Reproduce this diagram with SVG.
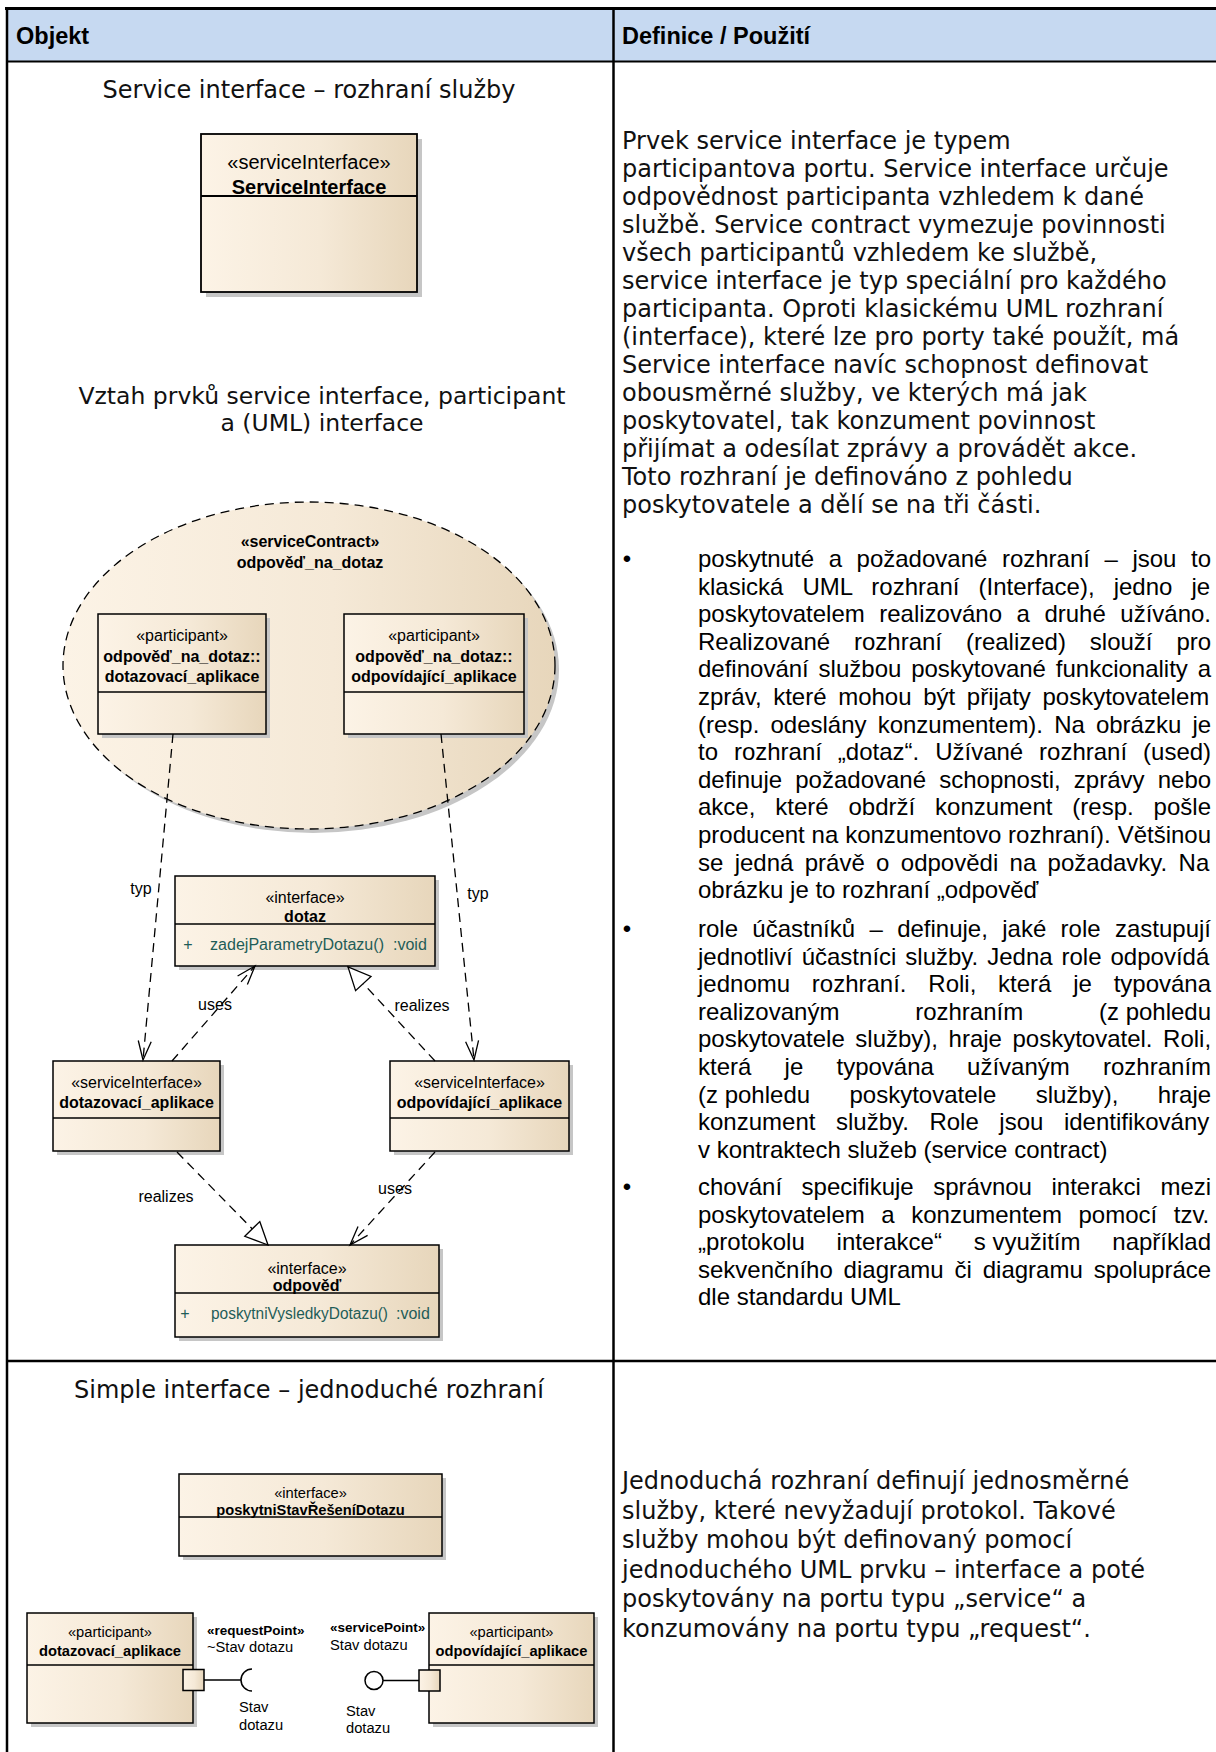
<svg xmlns="http://www.w3.org/2000/svg" width="1216" height="1752" viewBox="0 0 1216 1752">
<defs>
<style>
.hdr{font-family:"Liberation Sans",Arial,sans-serif;font-size:23.5px;font-weight:bold;fill:#000}
.para{font-family:"DejaVu Sans",Verdana,sans-serif;font-size:24px;fill:#111}
.ttl{font-family:"DejaVu Sans",Verdana,sans-serif;font-size:24px;fill:#111;text-anchor:middle}
.blt{font-family:"Liberation Sans",Arial,sans-serif;font-size:24px;fill:#000}
.u{font-family:"Liberation Sans",Arial,sans-serif;fill:#000}
.c{text-anchor:middle}
.b{font-weight:bold}
.s20{font-size:20px}
.s16{font-size:16px}
.s15{font-size:14.7px}
.s13{font-size:13.5px}
.op{fill:#1f5d58}
.box{fill:url(#ea);stroke:#000;stroke-width:1.5}
.sh{fill:#c6c6c6}
.ln{stroke:#000;stroke-width:1.5;fill:none}
.dash{fill:none;stroke:#000;stroke-width:1.3;stroke-dasharray:9 6}
.grid{stroke:#000;fill:none}
</style>
<linearGradient id="ea" x1="0" y1="0" x2="1" y2="0">
<stop offset="0" stop-color="#fcf3e6"/>
<stop offset="0.55" stop-color="#f5e9d7"/>
<stop offset="1" stop-color="#e7d6bb"/>
</linearGradient>
<marker id="open" viewBox="0 0 21 15" refX="20" refY="7.5" markerWidth="21" markerHeight="15" markerUnits="userSpaceOnUse" orient="auto" overflow="visible">
<path d="M1,1 L20,7.5 L1,14" fill="none" stroke="#000" stroke-width="1.3"/>
</marker>
<marker id="tri" viewBox="0 0 25 23" refX="23.5" refY="11.5" markerWidth="25" markerHeight="23" markerUnits="userSpaceOnUse" orient="auto" overflow="visible">
<path d="M1,1 L23.5,11.5 L1,22 Z" fill="#fff" stroke="#000" stroke-width="1.3"/>
</marker>
</defs>

<rect width="1216" height="1752" fill="#fff"/>

<!-- table frame -->
<g id="table">
<rect x="8" y="10" width="1208" height="51" fill="#c6d9f1"/>
<line class="grid" x1="5" y1="8.5" x2="1216" y2="8.5" stroke-width="3"/>
<line class="grid" x1="7" y1="7" x2="7" y2="1752" stroke-width="2.5"/>
<line class="grid" x1="7" y1="61.5" x2="1216" y2="61.5" stroke-width="2"/>
<line class="grid" x1="613.5" y1="7" x2="613.5" y2="1752" stroke-width="2.5"/>
<line class="grid" x1="7" y1="1361" x2="1216" y2="1361" stroke-width="2.5"/>
<text class="hdr" x="16" y="44">Objekt</text>
<text class="hdr" x="622" y="44">Definice / Použití</text>
</g>

<!-- left column headings -->
<g id="titles">
<text class="ttl" x="309" y="98">Service interface – rozhraní služby</text>
<text class="ttl" x="322" y="404" style="font-size:23.5px">Vztah prvků service interface, participant</text>
<text class="ttl" x="322" y="431" style="font-size:23.5px">a (UML) interface</text>
<text class="ttl" x="309" y="1398">Simple interface – jednoduché rozhraní</text>
</g>

<!-- right column: service interface description -->
<g id="text-service-interface">
<text class="para" x="622" y="149">Prvek service interface je typem</text>
<text class="para" x="622" y="177">participantova portu. Service interface určuje</text>
<text class="para" x="622" y="205">odpovědnost participanta vzhledem k dané</text>
<text class="para" x="622" y="233">službě. Service contract vymezuje povinnosti</text>
<text class="para" x="622" y="261">všech participantů vzhledem ke službě,</text>
<text class="para" x="622" y="289">service interface je typ speciální pro každého</text>
<text class="para" x="622" y="317">participanta. Oproti klasickému UML rozhraní</text>
<text class="para" x="622" y="345">(interface), které lze pro porty také použít, má</text>
<text class="para" x="622" y="373">Service interface navíc schopnost definovat</text>
<text class="para" x="622" y="401">obousměrné služby, ve kterých má jak</text>
<text class="para" x="622" y="429">poskytovatel, tak konzument povinnost</text>
<text class="para" x="622" y="457">přijímat a odesílat zprávy a provádět akce.</text>
<text class="para" x="622" y="485">Toto rozhraní je definováno z pohledu</text>
<text class="para" x="622" y="513">poskytovatele a dělí se na tři části.</text>

<text class="blt c" x="627" y="567">•</text>
<text class="blt" x="698" y="567" style="word-spacing:7.9px">poskytnuté a požadované rozhraní – jsou to</text>
<text class="blt" x="698" y="594.6" style="word-spacing:12.44px">klasická UML rozhraní (Interface), jedno je</text>
<text class="blt" x="698" y="622.2" style="word-spacing:7.85px">poskytovatelem realizováno a druhé užíváno.</text>
<text class="blt" x="698" y="649.8" style="word-spacing:17.22px">Realizované rozhraní (realized) slouží pro</text>
<text class="blt" x="698" y="677.4" style="word-spacing:3.18px">definování službou poskytované funkcionality a</text>
<text class="blt" x="698" y="705" style="word-spacing:4.96px">zpráv, které mohou být přijaty poskytovatelem</text>
<text class="blt" x="698" y="732.6" style="word-spacing:4.44px">(resp. odeslány konzumentem). Na obrázku je</text>
<text class="blt" x="698" y="760.2" style="word-spacing:9.24px">to rozhraní „dotaz“. Užívané rozhraní (used)</text>
<text class="blt" x="698" y="787.8" style="word-spacing:6.52px">definuje požadované schopnosti, zprávy nebo</text>
<text class="blt" x="698" y="815.4" style="word-spacing:13.22px">akce, které obdrží konzument (resp. pošle</text>
<text class="blt" x="698" y="843" style="word-spacing:0.18px">producent na konzumentovo rozhraní). Většinou</text>
<text class="blt" x="698" y="870.6" style="word-spacing:4.67px">se jedná právě o odpovědi na požadavky. Na</text>
<text class="blt" x="698" y="898.2">obrázku je to rozhraní „odpověď</text>

<text class="blt c" x="627" y="937">•</text>
<text class="blt" x="698" y="937" style="word-spacing:7.68px">role účastníků – definuje, jaké role zastupují</text>
<text class="blt" x="698" y="964.6" style="word-spacing:2.28px">jednotliví účastníci služby. Jedna role odpovídá</text>
<text class="blt" x="698" y="992.2" style="word-spacing:15.1px">jednomu rozhraní. Roli, která je typována</text>
<text class="blt" x="698" y="1019.8" style="word-spacing:69.1px">realizovaným rozhraním <tspan style="word-spacing:0">(z pohledu</tspan></text>
<text class="blt" x="698" y="1047.4" style="word-spacing:3.88px">poskytovatele služby), hraje poskytovatel. Roli,</text>
<text class="blt" x="698" y="1075" style="word-spacing:26.55px">která je typována užívaným rozhraním</text>
<text class="blt" x="698" y="1102.6" style="word-spacing:32.73px"><tspan style="word-spacing:0">(z pohledu</tspan> poskytovatele služby), hraje</text>
<text class="blt" x="698" y="1130.2" style="word-spacing:13.88px">konzument služby. Role jsou identifikovány</text>
<text class="blt" x="698" y="1157.8">v kontraktech služeb (service contract)</text>

<text class="blt c" x="627" y="1195">•</text>
<text class="blt" x="698" y="1195" style="word-spacing:12.88px">chování specifikuje správnou interakci mezi</text>
<text class="blt" x="698" y="1222.6" style="word-spacing:9.88px">poskytovatelem a konzumentem pomocí tzv.</text>
<text class="blt" x="698" y="1250.2" style="word-spacing:25.17px">„protokolu interakce“ <tspan style="word-spacing:0">s využitím</tspan> například</text>
<text class="blt" x="698" y="1277.8" style="word-spacing:4.2px">sekvenčního diagramu či diagramu spolupráce</text>
<text class="blt" x="698" y="1305.4">dle standardu UML</text>
</g>

<!-- right column: simple interface description -->
<g id="text-simple-interface">
<text class="para" x="622" y="1489">Jednoduchá rozhraní definují jednosměrné</text>
<text class="para" x="622" y="1518.5">služby, které nevyžadují protokol. Takové</text>
<text class="para" x="622" y="1548">služby mohou být definovaný pomocí</text>
<text class="para" x="622" y="1577.5">jednoduchého UML prvku – interface a poté</text>
<text class="para" x="622" y="1607">poskytovány na portu typu „service“ a</text>
<text class="para" x="622" y="1636.5">konzumovány na portu typu „request“.</text>
</g>

<!-- section 1: standalone service interface -->
<g id="node-ServiceInterface">
<rect class="sh" x="206" y="139" width="216" height="158"/>
<rect class="box" x="201" y="134" width="216" height="158" style="stroke-width:1.8"/>
<line class="ln" x1="201" y1="196" x2="417" y2="196" style="stroke-width:1.8"/>
<text class="u c s20" x="309" y="169">«serviceInterface»</text>
<text class="u c s20 b" x="309" y="194">ServiceInterface</text>
</g>

<!-- section 2: service contract with its participants -->
<g id="node-contract">
<ellipse class="sh" cx="313" cy="669.5" rx="246" ry="163.5"/>
<ellipse cx="309" cy="665.5" rx="246" ry="163.5" fill="url(#ea)" stroke="#000" stroke-width="1.3" stroke-dasharray="9 6"/>
<text class="u c s16 b" x="310" y="547">«serviceContract»</text>
<text class="u c s16 b" x="310" y="568">odpověď_na_dotaz</text>
</g>

<g id="node-participant-dotazovaci">
<rect class="sh" x="102" y="618" width="168" height="120"/>
<rect class="box" x="98" y="614" width="168" height="120"/>
<line class="ln" x1="98" y1="692" x2="266" y2="692"/>
<text class="u c s16" x="182" y="641">«participant»</text>
<text class="u c s16 b" x="182" y="662">odpověď_na_dotaz::</text>
<text class="u c s16 b" x="182" y="682">dotazovací_aplikace</text>
</g>

<g id="node-participant-odpovidajici">
<rect class="sh" x="348" y="618" width="180" height="120"/>
<rect class="box" x="344" y="614" width="180" height="120"/>
<line class="ln" x1="344" y1="692" x2="524" y2="692"/>
<text class="u c s16" x="434" y="641">«participant»</text>
<text class="u c s16 b" x="434" y="662">odpověď_na_dotaz::</text>
<text class="u c s16 b" x="434" y="682">odpovídající_aplikace</text>
</g>

<g id="node-dotaz">
<rect class="sh" x="179" y="880" width="260" height="90"/>
<rect class="box" x="175" y="876" width="260" height="90"/>
<line class="ln" x1="175" y1="924" x2="435" y2="924"/>
<text class="u c s16" x="305" y="903">«interface»</text>
<text class="u c s16 b" x="305" y="922">dotaz</text>
<text class="u c s16 op" x="188" y="950">+</text>
<text class="u s16 op" x="210" y="950" textLength="174" lengthAdjust="spacingAndGlyphs">zadejParametryDotazu()</text>
<text class="u s16 op" x="393" y="950">:void</text>
</g>

<g id="node-si-dotazovaci">
<rect class="sh" x="57" y="1065" width="167" height="90"/>
<rect class="box" x="53" y="1061" width="167" height="90"/>
<line class="ln" x1="53" y1="1118" x2="220" y2="1118"/>
<text class="u c s16" x="136.5" y="1088">«serviceInterface»</text>
<text class="u c s16 b" x="136.5" y="1108">dotazovací_aplikace</text>
</g>

<g id="node-si-odpovidajici">
<rect class="sh" x="394" y="1065" width="179" height="90"/>
<rect class="box" x="390" y="1061" width="179" height="90"/>
<line class="ln" x1="390" y1="1118" x2="569" y2="1118"/>
<text class="u c s16" x="479.5" y="1088">«serviceInterface»</text>
<text class="u c s16 b" x="479.5" y="1108">odpovídající_aplikace</text>
</g>

<g id="node-odpoved">
<rect class="sh" x="179" y="1249" width="264" height="92"/>
<rect class="box" x="175" y="1245" width="264" height="92"/>
<line class="ln" x1="175" y1="1293" x2="439" y2="1293"/>
<text class="u c s16" x="307" y="1274">«interface»</text>
<text class="u c s16 b" x="307" y="1291">odpověď</text>
<text class="u c s16 op" x="185" y="1319">+</text>
<text class="u s16 op" x="211" y="1319" textLength="177" lengthAdjust="spacingAndGlyphs">poskytniVysledkyDotazu()</text>
<text class="u s16 op" x="396" y="1319">:void</text>
</g>

<!-- section 3: simple interface and ports -->
<g id="node-poskytniStavReseniDotazu">
<rect class="sh" x="183" y="1478" width="263" height="82"/>
<rect class="box" x="179" y="1474" width="263" height="82"/>
<line class="ln" x1="179" y1="1517" x2="442" y2="1517"/>
<text class="u c s15" x="310.5" y="1498">«interface»</text>
<text class="u c s15 b" x="310.5" y="1515">poskytniStavŘešeníDotazu</text>
</g>

<g id="node-participant2-dotazovaci">
<rect class="sh" x="31" y="1617" width="166" height="110"/>
<rect class="box" x="27" y="1613" width="166" height="110"/>
<line class="ln" x1="27" y1="1665" x2="193" y2="1665"/>
<text class="u c s15" x="110" y="1637">«participant»</text>
<text class="u c s15 b" x="110" y="1656">dotazovací_aplikace</text>
</g>

<g id="node-participant2-odpovidajici">
<rect class="sh" x="433" y="1617" width="165" height="110"/>
<rect class="box" x="429" y="1613" width="165" height="110"/>
<line class="ln" x1="429" y1="1665" x2="594" y2="1665"/>
<text class="u c s15" x="511.5" y="1637">«participant»</text>
<text class="u c s15 b" x="511.5" y="1656">odpovídající_aplikace</text>
</g>

<g id="node-requestPoint">
<rect class="box" x="183" y="1669.5" width="21" height="21"/>
<line class="ln" x1="204" y1="1680" x2="241" y2="1680"/>
<path class="ln" d="M252,1669 A11,11 0 0 0 252,1691"/>
<text class="u s13 b" x="207" y="1635">«requestPoint»</text>
<text class="u s15" x="207" y="1652">~Stav dotazu</text>
<text class="u s15" x="239" y="1712">Stav</text>
<text class="u s15" x="239" y="1730">dotazu</text>
</g>

<g id="node-servicePoint">
<rect class="box" x="419" y="1670" width="21" height="21"/>
<line class="ln" x1="383" y1="1680.5" x2="419" y2="1680.5"/>
<circle class="ln" cx="374" cy="1680.5" r="9" fill="#fff"/>
<text class="u s13 b" x="330" y="1632">«servicePoint»</text>
<text class="u s15" x="330" y="1650">Stav dotazu</text>
<text class="u s15" x="346" y="1716">Stav</text>
<text class="u s15" x="346" y="1733">dotazu</text>
</g>

<!-- dependencies, usages and realizations -->
<g id="connectors">
<path class="dash" d="M173,734 L143,1060" marker-end="url(#open)"/>
<path class="dash" d="M441,734 L474,1060" marker-end="url(#open)"/>
<path class="dash" d="M172,1061 L255,966" marker-end="url(#open)"/>
<path class="dash" d="M435,1061 L348,967" marker-end="url(#tri)"/>
<path class="dash" d="M177,1152 L268,1245" marker-end="url(#tri)"/>
<path class="dash" d="M435,1152 L350,1245" marker-end="url(#open)"/>
<text class="u c s16" x="141" y="894">typ</text>
<text class="u c s16" x="478" y="899">typ</text>
<text class="u c s16" x="215" y="1010">uses</text>
<text class="u c s16" x="422" y="1011">realizes</text>
<text class="u c s16" x="166" y="1202">realizes</text>
<text class="u c s16" x="395" y="1194">uses</text>
</g>
</svg>
